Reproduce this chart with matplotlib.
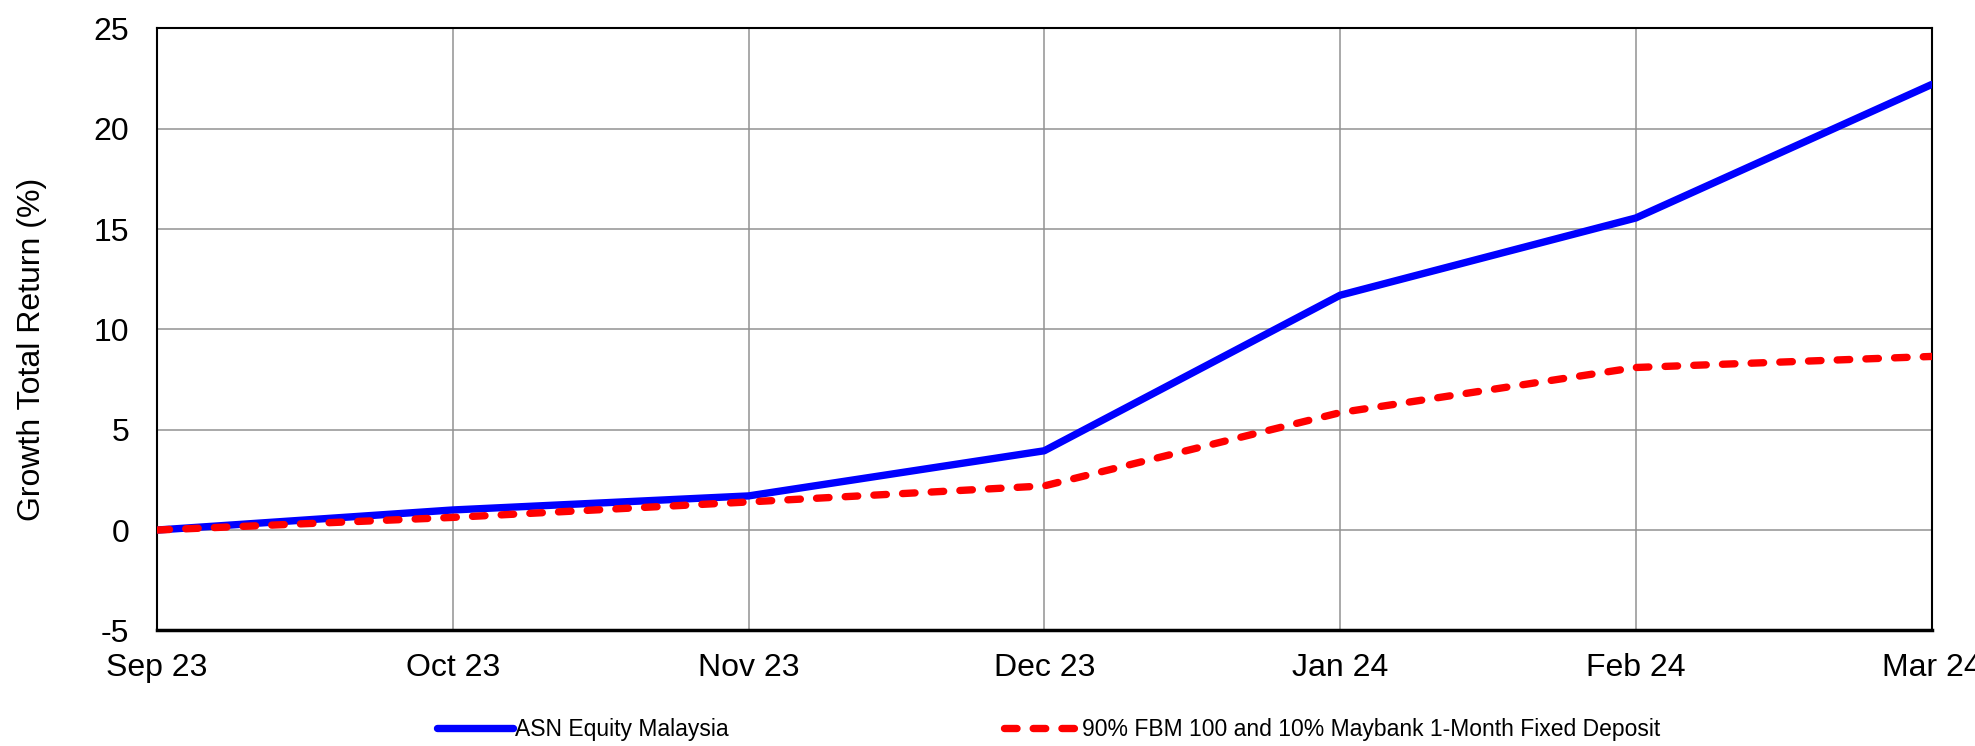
import matplotlib
matplotlib.use('Agg')
matplotlib.rcParams['font.family'] = ['Liberation Sans', 'DejaVu Sans']
matplotlib.rcParams['axes.unicode_minus'] = False
import matplotlib.pyplot as plt

months = ['Sep 23', 'Oct 23', 'Nov 23', 'Dec 23', 'Jan 24', 'Feb 24', 'Mar 24']
fund = [0.0, 1.0, 1.7, 3.95, 11.7, 15.55, 22.2]
benchmark = [0.0, 0.63, 1.4, 2.2, 5.85, 8.1, 8.65]
fund_name = 'ASN Equity Malaysia'
bench_name = '90% FBM 100 and 10% Maybank 1-Month Fixed Deposit'
yticks = [-5, 0, 5, 10, 15, 20, 25]

fig = plt.figure(figsize=(19.75, 7.46), dpi=100)
ax = fig.add_axes([0.0795, 0.155, 0.8985, 0.807])

x = list(range(len(months)))
ax.plot(x, fund, color='#0000FF', lw=5.3, label=fund_name, solid_capstyle='round', zorder=3)
ax.plot(x, benchmark, color='#FF0000', lw=5.3, ls=(0, (1.7, 2.2)), label=bench_name,
        dash_capstyle='round', zorder=3)

ax.set_xlim(0, len(months) - 1)
ax.set_ylim(-5, 25)
ax.set_xticks(x)
ax.set_xticklabels(months)
ax.set_yticks(yticks)
ax.tick_params(axis='both', length=0, labelsize=23)
ax.tick_params(axis='x', pad=16)
ax.tick_params(axis='y', pad=20)
ax.grid(True, color='#929292', lw=1.1)
ax.set_axisbelow(True)
for s in ax.spines.values():
    s.set_color('black')
    s.set_linewidth(1.5)
ax.spines['bottom'].set_linewidth(2.5)
ax.set_ylabel('Growth Total Return (%)', fontsize=23)
ax.yaxis.set_label_coords(-0.062, 0.467)

fig.legend(loc='center', bbox_to_anchor=(0.531, 0.022), ncol=2, frameon=False,
           fontsize=16.5, handlelength=3.3, handletextpad=0.1, columnspacing=12)

fig.savefig('out.png', dpi=100)
